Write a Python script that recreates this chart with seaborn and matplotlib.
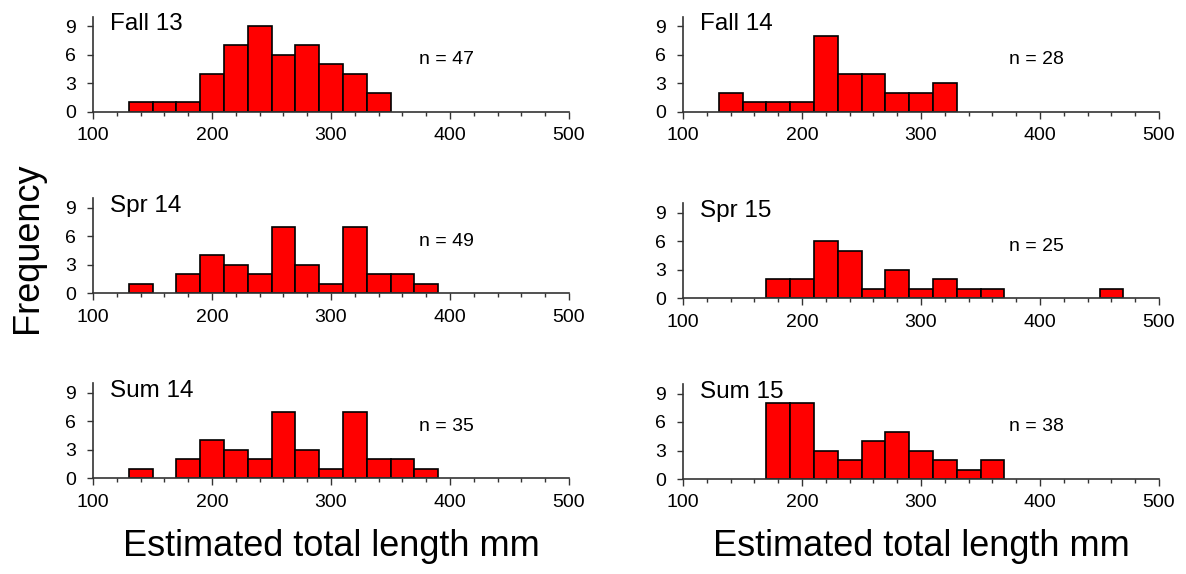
import numpy as np
import pandas as pd
import matplotlib
matplotlib.use("Agg")
import matplotlib.pyplot as plt
from matplotlib.ticker import MultipleLocator
import seaborn as sns

# bin centres, 20 mm wide bins starting at 130
bin_centres = [140, 160, 180, 200, 220, 240, 260, 280, 300, 320, 340, 360, 380, 400, 420, 440, 460]
bin_edges = list(range(130, 490, 20))

fall13 = [1, 1, 1, 4, 7, 9, 6, 7, 5, 4, 2, 0, 0, 0, 0, 0, 0]
spr14 = [1, 0, 2, 4, 3, 2, 7, 3, 1, 7, 2, 2, 1, 0, 0, 0, 0]
sum14 = [1, 0, 2, 4, 3, 2, 7, 3, 1, 7, 2, 2, 1, 0, 0, 0, 0]
fall14 = [2, 1, 1, 1, 8, 4, 4, 2, 2, 3, 0, 0, 0, 0, 0, 0, 0]
spr15 = [0, 0, 2, 2, 6, 5, 1, 3, 1, 2, 1, 1, 0, 0, 0, 0, 1]
sum15 = [0, 0, 8, 8, 3, 2, 4, 5, 3, 2, 1, 2, 0, 0, 0, 0, 0]

season_labels = ["Fall 13", "Spr 14", "Sum 14", "Fall 14", "Spr 15", "Sum 15"]
n_labels = ["n = 47", "n = 49", "n = 35", "n = 28", "n = 25", "n = 38"]
all_counts = [fall13, spr14, sum14, fall14, spr15, sum15]

sns.set_style("ticks")
plt.rcParams['font.family'] = ['Liberation Sans', 'DejaVu Sans']
plt.rcParams['text.color'] = 'black'
plt.rcParams['xtick.color'] = 'black'
plt.rcParams['ytick.color'] = 'black'

fig = plt.figure(figsize=(11.86, 5.74), dpi=100)

# axes boxes [left, bottom, width, height] in figure fraction
W = 476 / 1186
H = 95 / 574
boxes = [
    [93 / 1186, (574 - 111.7) / 574, W, H],
    [93 / 1186, (574 - 293.3) / 574, W, H],
    [93 / 1186, (574 - 478.3) / 574, W, H],
    [683 / 1186, (574 - 111.7) / 574, W, H],
    [683 / 1186, (574 - 298.3) / 574, W, H],
    [683 / 1186, (574 - 479.0) / 574, W, H],
]

for box, counts, lab, nlab in zip(boxes, all_counts, season_labels, n_labels):
    ax = fig.add_axes(box)
    df = pd.DataFrame({"length": bin_centres, "count": counts})
    sns.histplot(data=df, x="length", weights="count", bins=bin_edges, ax=ax,
                 color="#ff0000", alpha=1, edgecolor="black", linewidth=1.2)
    # empty bins are not drawn in the original
    for p in ax.patches:
        if p.get_height() == 0:
            p.set_visible(False)
    ax.set_xlim(100, 500)
    ax.set_ylim(0, 10)
    ax.set_yticks([0, 3, 6, 9])
    ax.set_xticks([100, 200, 300, 400, 500])
    ax.xaxis.set_minor_locator(MultipleLocator(20))
    ax.tick_params(axis="both", which="major", labelsize=14, length=5, width=1, direction="out", color="#333333")
    ax.tick_params(axis="x", which="minor", length=3, width=1, color="#333333")
    ax.tick_params(axis="x", pad=6)
    ax.tick_params(axis="y", pad=8, length=4)
    ax.set_xlabel("")
    ax.set_ylabel("")
    for s in ["top", "right"]:
        ax.spines[s].set_visible(False)
    for s in ["left", "bottom"]:
        ax.spines[s].set_linewidth(1.2)
        ax.spines[s].set_color("#333333")
    ax.text(0.036, 0.92, lab, transform=ax.transAxes, fontsize=17.5, va="center", ha="left")
    ax.text(0.685, 0.55, nlab, transform=ax.transAxes, fontsize=14, va="center", ha="left")

fig.text(28 / 1186, (574 - 248) / 574, "Frequency", rotation=90, fontsize=26, va="center", ha="center")
fig.text(331 / 1186, (574 - 547) / 574, "Estimated total length mm", fontsize=26, va="center", ha="center")
fig.text(921 / 1186, (574 - 547) / 574, "Estimated total length mm", fontsize=26, va="center", ha="center")

fig.savefig("out.png", dpi=100)
